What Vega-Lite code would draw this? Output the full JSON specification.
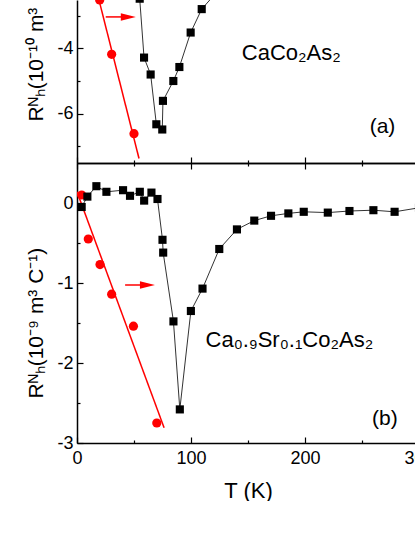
{
  "$schema": "https://vega.github.io/schema/vega-lite/v6.json",
  "background": "white",
  "padding": {"left": 25, "top": 0, "right": 0, "bottom": 0},
  "spacing": 0,
  "bounds": "flush",
  "config": {
    "font": "Liberation Sans",
    "view": {"stroke": null},
    "axis": {
      "domainColor": "#000", "domainWidth": 1.5, "tickColor": "#000", "tickWidth": 1.2,
      "labelFont": "Liberation Sans", "labelFontSize": 18, "labelColor": "#000",
      "titleFont": "Liberation Sans", "titleFontSize": 21, "titleFontWeight": "normal", "titleColor": "#000",
      "grid": false, "labelOverlap": false, "labelFlush": false, "labelBound": false
    }
  },
  "datasets": {
    "a_sq": [
      {"T": 55, "R": -2.47}, {"T": 58.8, "R": -4.28}, {"T": 64.6, "R": -4.8}, {"T": 69.6, "R": -6.33},
      {"T": 74.8, "R": -6.49}, {"T": 75.4, "R": -5.61}, {"T": 84.5, "R": -5.0}, {"T": 89.8, "R": -4.57},
      {"T": 99.7, "R": -3.51}, {"T": 109.4, "R": -2.79}, {"T": 120, "R": -2.37}
    ],
    "a_ci": [{"T": 19.9, "R": -2.51}, {"T": 30.4, "R": -4.18}, {"T": 50, "R": -6.62}],
    "a_fit": [{"T": 12, "R": -1.5}, {"T": 54.4, "R": -7.38}],
    "a_arrow": [{"T": 25.2, "T2": 42, "R": -3.03}],
    "a_head": [{"T": 45, "R": -3.03}],
    "a_name": [{"T": 188, "R": -4.36, "label": "CaCo₂As₂"}],
    "a_tag": [{"T": 268, "R": -6.61, "label": "(a)"}],
    "b_sq": [
      {"T": 4.1, "R": -0.05}, {"T": 9.1, "R": 0.08}, {"T": 17, "R": 0.21}, {"T": 25.8, "R": 0.14},
      {"T": 40.4, "R": 0.16}, {"T": 46.5, "R": 0.09}, {"T": 55.1, "R": 0.14}, {"T": 58.9, "R": 0.03},
      {"T": 65.3, "R": 0.13}, {"T": 70.6, "R": 0.05}, {"T": 75, "R": -0.46}, {"T": 75.6, "R": -0.62},
      {"T": 84.6, "R": -1.48}, {"T": 90.2, "R": -2.58}, {"T": 99.9, "R": -1.35}, {"T": 110.1, "R": -1.07},
      {"T": 124.8, "R": -0.575}, {"T": 140.3, "R": -0.33}, {"T": 155.5, "R": -0.22}, {"T": 170.2, "R": -0.16},
      {"T": 185.4, "R": -0.13}, {"T": 198.9, "R": -0.11}, {"T": 220, "R": -0.12}, {"T": 239, "R": -0.1},
      {"T": 260, "R": -0.09}, {"T": 278.6, "R": -0.11}, {"T": 300, "R": -0.06}
    ],
    "b_ci": [
      {"T": 4.1, "R": 0.1}, {"T": 9.9, "R": -0.45}, {"T": 20.2, "R": -0.77},
      {"T": 30.4, "R": -1.14}, {"T": 49.5, "R": -1.54}, {"T": 70, "R": -2.75}
    ],
    "b_fit": [{"T": 0, "R": 0.14}, {"T": 76.4, "R": -2.81}],
    "b_arrow": [{"T": 42.2, "T2": 58, "R": -1.025}],
    "b_head": [{"T": 61.8, "R": -1.025}],
    "b_name": [{"T": 186.3, "R": -1.8, "label": "Ca₀.₉Sr₀.₁Co₂As₂"}],
    "b_tag": [{"T": 270, "R": -2.78, "label": "(b)"}]
  },
  "vconcat": [
    {
      "width": 342,
      "height": 163,
      "encoding": {
        "x": {
          "field": "T", "type": "quantitative",
          "scale": {"domain": [0, 300], "nice": false, "zero": false},
          "axis": {
            "values": [0, 50, 100, 150, 200, 250, 300], "labels": false, "title": null,
            "tickSize": {"condition": {"test": "datum.value % 100 === 0", "value": -6}, "value": -3}
          }
        },
        "y": {
          "field": "R", "type": "quantitative",
          "scale": {"domain": [-7.52, -2.51], "nice": false, "zero": false},
          "axis": {
            "values": [-7, -6, -5, -4, -3],
            "labelExpr": "datum.value % 2 === 0 ? '' + datum.value : ''",
            "tickSize": {"condition": {"test": "datum.value % 2 === 0", "value": -6}, "value": -3},
            "labelPadding": 10,
            "title": "Rᴺₕ(10⁻¹⁰ m³",
            "titleY": 121, "titleAlign": "left", "titlePadding": 10
          }
        }
      },
      "layer": [
        {"data": {"name": "a_fit"}, "mark": {"type": "line", "color": "#ff0000", "strokeWidth": 1.5, "clip": true}},
        {"data": {"name": "a_sq"}, "mark": {"type": "line", "color": "#333", "strokeWidth": 1, "clip": true}},
        {"data": {"name": "a_ci"}, "mark": {"type": "point", "shape": "circle", "filled": true, "opacity": 1, "color": "#ff0000", "size": 85, "clip": true}},
        {"data": {"name": "a_sq"}, "mark": {"type": "point", "shape": "square", "filled": true, "opacity": 1, "color": "#000", "size": 66, "clip": true}},
        {"data": {"name": "a_arrow"}, "mark": {"type": "rule", "color": "#ff0000", "strokeWidth": 1.5}, "encoding": {"x2": {"field": "T2"}}},
        {"data": {"name": "a_head"}, "mark": {"type": "point", "shape": "M-1,-0.5L1,0L-1,0.5Z", "filled": true, "opacity": 1, "color": "#ff0000", "size": 225}},
        {"data": {"name": "a_name"}, "mark": {"type": "text", "font": "Liberation Sans", "fontSize": 22, "color": "#000", "align": "center", "baseline": "alphabetic"}, "encoding": {"text": {"field": "label"}}},
        {"data": {"name": "a_tag"}, "mark": {"type": "text", "font": "Liberation Sans", "fontSize": 21, "color": "#000", "align": "center", "baseline": "alphabetic"}, "encoding": {"text": {"field": "label"}}}
      ]
    },
    {
      "width": 342,
      "height": 280,
      "resolve": {"axis": {"x": "independent"}},
      "encoding": {
        "x": {"field": "T", "type": "quantitative", "scale": {"domain": [0, 300], "nice": false, "zero": false}, "axis": null},
        "y": {
          "field": "R", "type": "quantitative",
          "scale": {"domain": [-3, 0.5], "nice": false, "zero": false},
          "axis": {
            "values": [-3, -2.5, -2, -1.5, -1, -0.5, 0],
            "labelExpr": "datum.value % 1 === 0 ? '' + datum.value : ''",
            "tickSize": {"condition": {"test": "datum.value % 1 === 0", "value": -6}, "value": -3},
            "labelPadding": 10,
            "title": "Rᴺₕ(10⁻⁹ m³ C⁻¹)",
            "titleY": 235, "titleAlign": "left", "titlePadding": 10
          }
        }
      },
      "layer": [
        {"data": {"name": "b_fit"}, "mark": {"type": "line", "color": "#ff0000", "strokeWidth": 1.5, "clip": true},
         "encoding": {"x": {"field": "T", "type": "quantitative", "scale": {"domain": [0, 300], "nice": false, "zero": false},
           "axis": {
             "values": [0, 50, 100, 150, 200, 250, 300],
             "labelExpr": "datum.value % 100 === 0 ? '' + datum.value : ''",
             "tickSize": {"condition": {"test": "datum.value % 100 === 0", "value": -6}, "value": -3},
             "labelPadding": 12, "title": "T (K)", "titleFontSize": 22, "titlePadding": 10
           }}}},
        {"data": {"name": "b_sq"}, "mark": {"type": "line", "color": "#333", "strokeWidth": 1, "clip": true},
         "encoding": {"x": {"field": "T", "type": "quantitative", "scale": {"domain": [0, 300], "nice": false, "zero": false},
           "axis": {
             "orient": "top", "values": [0, 50, 100, 150, 200, 250, 300], "labels": false, "title": null,
             "tickSize": {"condition": {"test": "datum.value % 100 === 0", "value": -6}, "value": -3}
           }}}},
        {"data": {"name": "b_ci"}, "mark": {"type": "point", "shape": "circle", "filled": true, "opacity": 1, "color": "#ff0000", "size": 85, "clip": true}},
        {"data": {"name": "b_sq"}, "mark": {"type": "point", "shape": "square", "filled": true, "opacity": 1, "color": "#000", "size": 66, "clip": true}},
        {"data": {"name": "b_arrow"}, "mark": {"type": "rule", "color": "#ff0000", "strokeWidth": 1.5}, "encoding": {"x2": {"field": "T2"}}},
        {"data": {"name": "b_head"}, "mark": {"type": "point", "shape": "M-1,-0.5L1,0L-1,0.5Z", "filled": true, "opacity": 1, "color": "#ff0000", "size": 225}},
        {"data": {"name": "b_name"}, "mark": {"type": "text", "font": "Liberation Sans", "fontSize": 22, "color": "#000", "align": "center", "baseline": "alphabetic"}, "encoding": {"text": {"field": "label"}}},
        {"data": {"name": "b_tag"}, "mark": {"type": "text", "font": "Liberation Sans", "fontSize": 21, "color": "#000", "align": "center", "baseline": "alphabetic"}, "encoding": {"text": {"field": "label"}}}
      ]
    }
  ]
}
